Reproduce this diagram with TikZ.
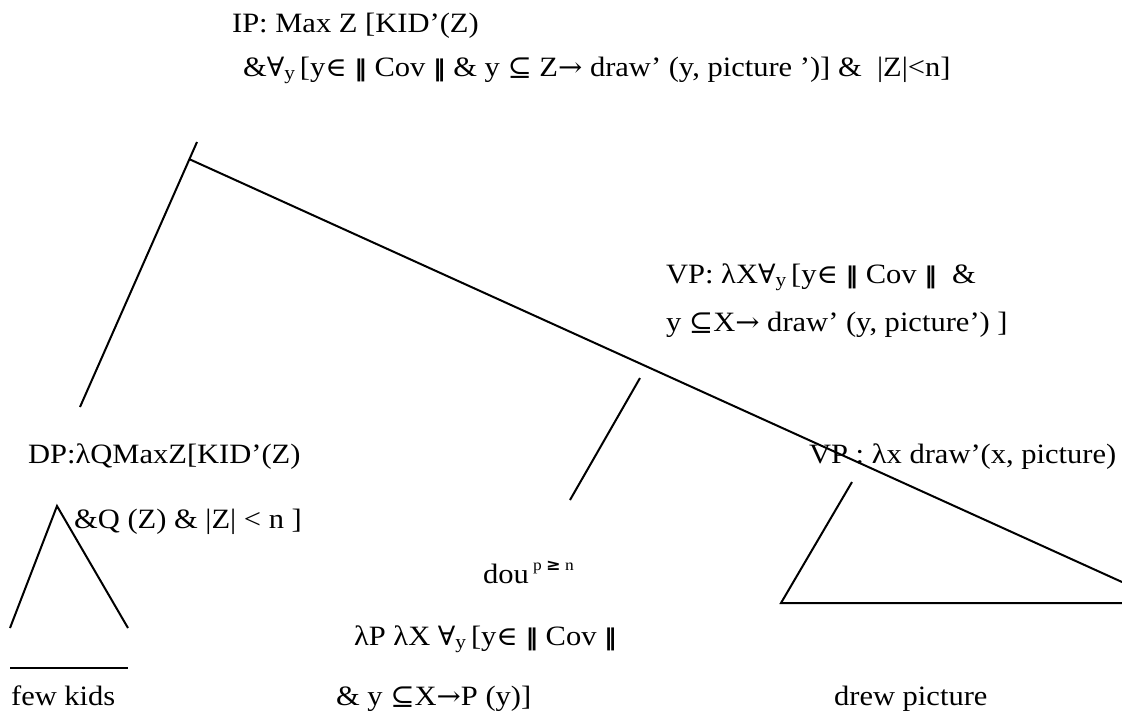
\documentclass[tikz,border=0pt]{standalone}
\usepackage{fontspec}
\setmainfont{Liberation Serif}
\newfontfamily\symfont[Scale=0.95]{DejaVu Serif}
\newfontfamily\barfont{DejaVu Sans}
\usetikzlibrary{positioning}

\newcommand{\dbar}{{\barfont\bfseries\fontsize{23}{23}\selectfont ‖}}
\newcommand{\fay}{{\symfont ∀}\textsubscript{y}\hspace{4pt}}
\newcommand{\elt}{{\symfont ∈}}
\newcommand{\subeq}{{\symfont ⊆}}
\newcommand{\toarr}{{\symfont →}}

\begin{document}
\begin{tikzpicture}[x=1pt, y=-1pt, line width=2pt,
    lbl/.style={anchor=base west, inner sep=0pt, font=\fontsize{28}{34}\selectfont, xscale=1.09, transform shape},
    sup/.style={anchor=base west, inner sep=0pt, font=\fontsize{16}{18}\selectfont, xscale=1.09, transform shape}]
    \useasboundingbox (0,0) rectangle (1122,716);
    % labels
    \node[lbl] (ip1) at (231,32) {IP: Max Z [KID’(Z)};
    \node[lbl] (ip2) at (242,76) {\&\fay[y\elt\ \dbar\ Cov \dbar\ \& y \subeq\ Z\toarr\ draw’ (y, picture ’)] \& \ |Z|<n]};
    \node[lbl] (vp1) at (665,283) {VP: λX\fay[y\elt\ \dbar\ Cov \dbar\ \ \&};
    \node[lbl] (vp2) at (665,331) {y \subeq X\toarr\ draw’ (y, picture’) ]};
    \node[lbl] (dp1) at (27,463) {DP:λQMaxZ[KID’(Z)};
    \node[lbl] (dp2) at (73,528) {\&Q (Z) \& |Z| < n ]};
    \node[lbl] (vp3) at (808,463) {VP : λx draw’(x, picture)};
    \node[lbl] (dou) at (482,583) {dou};
    \node[sup] (douup) at (532,570) {p {\barfont\bfseries ≥} n};
    \node[lbl] (det1) at (353,645) {λP λX \fay[y\elt\ \dbar\ Cov \dbar};
    \node[lbl] (det2) at (335,705) {\& y \subeq X\toarr P (y)]};
    \node[lbl] (few) at (10,705) {few kids};
    \node[lbl] (drew) at (833,705) {drew picture};
    % tree points
    \coordinate (ipTop) at (197,142);
    \coordinate (ipJoin) at (189,159);
    \coordinate (dpTop) at (80,407);
    \coordinate (rEnd) at (1122,582);
    \coordinate (midTop) at (640,378);
    \coordinate (midBot) at (570,500);
    \coordinate (vTop) at (852,482);
    \coordinate (vL) at (781,603);
    \coordinate (vR) at (1122,603);
    \coordinate (dTop) at (57,506);
    \coordinate (dL) at (10,628);
    \coordinate (dR) at (128,628);
    \coordinate (uL) at (10,668);
    \coordinate (uR) at (128,668);
    \draw (ipTop) -- (dpTop);
    \draw (ipJoin) -- (rEnd);
    \draw (midTop) -- (midBot);
    \draw (vTop) -- (vL) -- (vR);
    \draw (dL) -- (dTop) -- (dR);
    \draw (uL) -- (uR);
\end{tikzpicture}
\end{document}
